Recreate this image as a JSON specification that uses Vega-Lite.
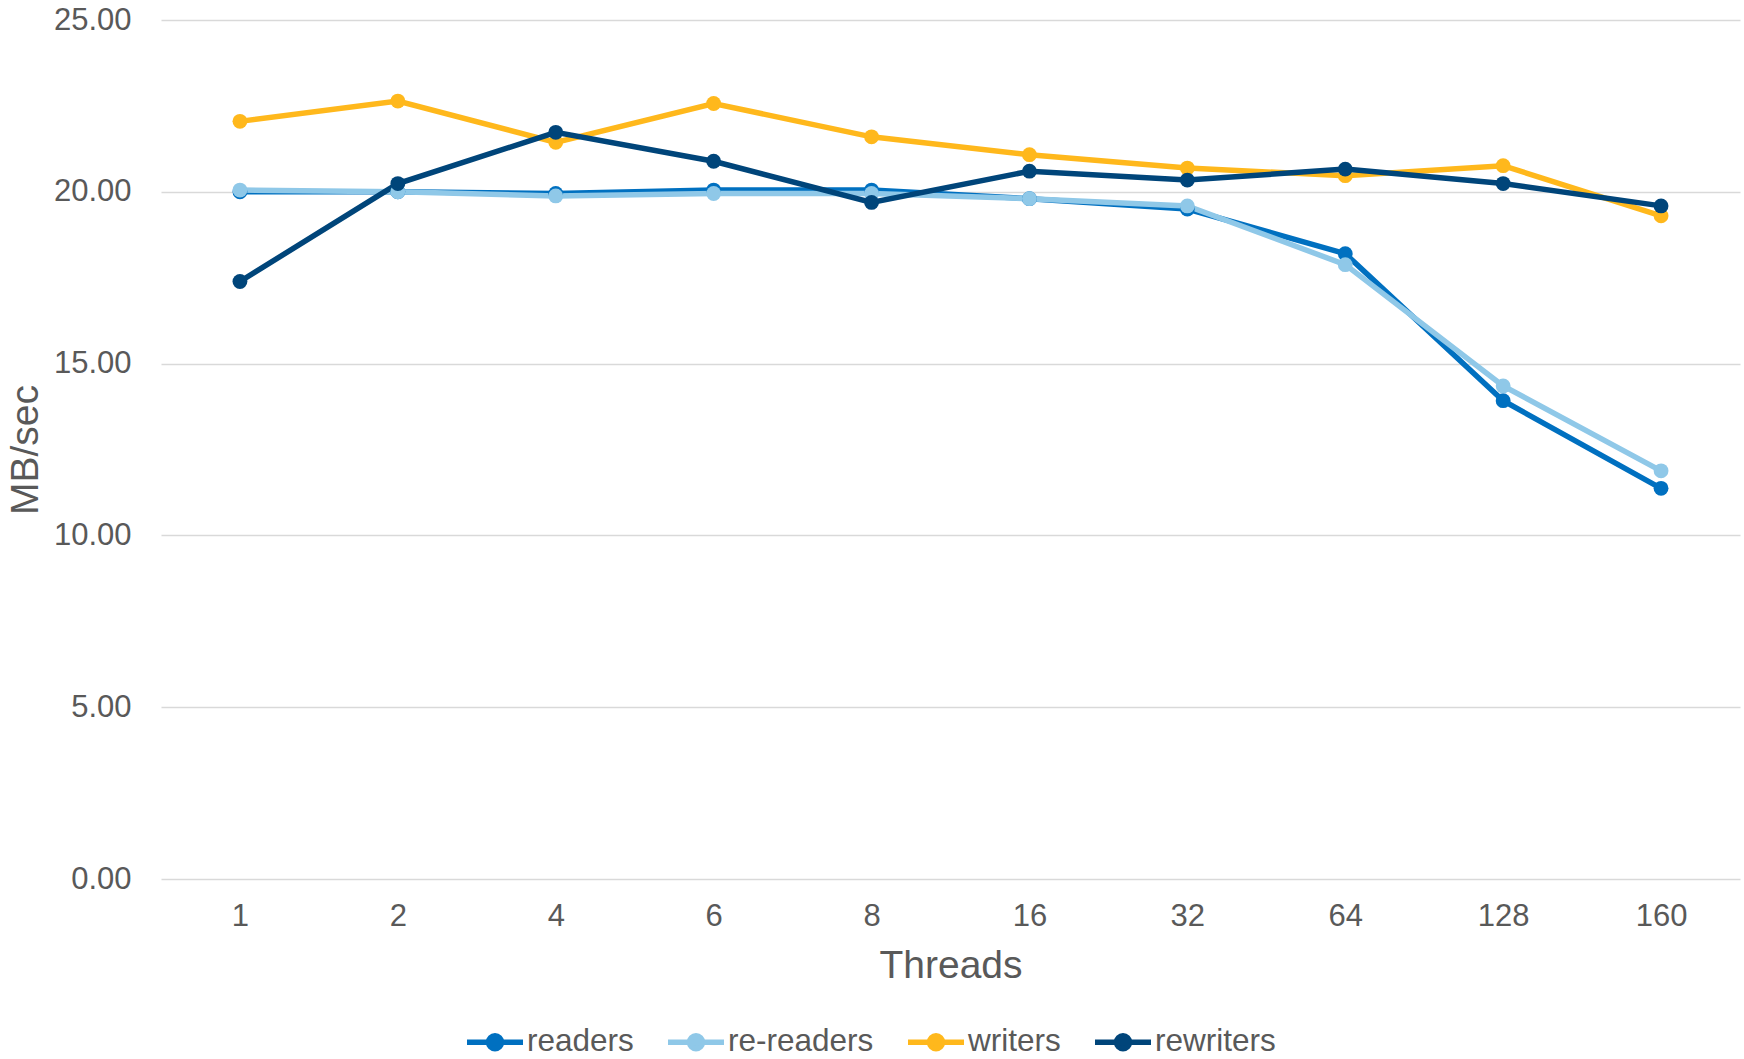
{
  "$schema": "https://vega.github.io/schema/vega-lite/v6.json",
  "autosize": {"type": "none"},
  "width": 1579,
  "height": 859,
  "padding": {"left": 161, "top": 20, "right": 4, "bottom": 180},
  "background": "white",
  "config": {
    "view": {"stroke": null},
    "font": "Liberation Sans",
    "axis": {"labelFont": "Liberation Sans", "titleFont": "Liberation Sans", "labelColor": "#595959", "titleColor": "#595959", "titleFontWeight": "normal"},
    "legend": {"labelFont": "Liberation Sans"}
  },
  "data": {
    "values": [
      {"threads": "1", "series": "readers", "mbps": 20.0},
      {"threads": "2", "series": "readers", "mbps": 20.0},
      {"threads": "4", "series": "readers", "mbps": 19.95},
      {"threads": "6", "series": "readers", "mbps": 20.05},
      {"threads": "8", "series": "readers", "mbps": 20.05},
      {"threads": "16", "series": "readers", "mbps": 19.8},
      {"threads": "32", "series": "readers", "mbps": 19.5},
      {"threads": "64", "series": "readers", "mbps": 18.2},
      {"threads": "128", "series": "readers", "mbps": 13.92},
      {"threads": "160", "series": "readers", "mbps": 11.37},
      {"threads": "1", "series": "re-readers", "mbps": 20.05},
      {"threads": "2", "series": "re-readers", "mbps": 20.0},
      {"threads": "4", "series": "re-readers", "mbps": 19.88},
      {"threads": "6", "series": "re-readers", "mbps": 19.95},
      {"threads": "8", "series": "re-readers", "mbps": 19.95},
      {"threads": "16", "series": "re-readers", "mbps": 19.8},
      {"threads": "32", "series": "re-readers", "mbps": 19.59},
      {"threads": "64", "series": "re-readers", "mbps": 17.88},
      {"threads": "128", "series": "re-readers", "mbps": 14.35},
      {"threads": "160", "series": "re-readers", "mbps": 11.88},
      {"threads": "1", "series": "writers", "mbps": 22.05},
      {"threads": "2", "series": "writers", "mbps": 22.64},
      {"threads": "4", "series": "writers", "mbps": 21.44},
      {"threads": "6", "series": "writers", "mbps": 22.57},
      {"threads": "8", "series": "writers", "mbps": 21.6},
      {"threads": "16", "series": "writers", "mbps": 21.08},
      {"threads": "32", "series": "writers", "mbps": 20.69},
      {"threads": "64", "series": "writers", "mbps": 20.47},
      {"threads": "128", "series": "writers", "mbps": 20.76},
      {"threads": "160", "series": "writers", "mbps": 19.3},
      {"threads": "1", "series": "rewriters", "mbps": 17.39},
      {"threads": "2", "series": "rewriters", "mbps": 20.24},
      {"threads": "4", "series": "rewriters", "mbps": 21.73},
      {"threads": "6", "series": "rewriters", "mbps": 20.89},
      {"threads": "8", "series": "rewriters", "mbps": 19.69},
      {"threads": "16", "series": "rewriters", "mbps": 20.6},
      {"threads": "32", "series": "rewriters", "mbps": 20.34},
      {"threads": "64", "series": "rewriters", "mbps": 20.66},
      {"threads": "128", "series": "rewriters", "mbps": 20.24},
      {"threads": "160", "series": "rewriters", "mbps": 19.59}
    ]
  },
  "encoding": {
    "x": {
      "field": "threads",
      "type": "ordinal",
      "sort": ["1", "2", "4", "6", "8", "16", "32", "64", "128", "160"],
      "scale": {"type": "point", "padding": 0.5},
      "axis": {
        "title": "Threads",
        "titleFontSize": 39,
        "titlePadding": 15,
        "labelFontSize": 31,
        "labelAngle": 0,
        "labelPadding": 22,
        "domain": false,
        "ticks": false,
        "grid": false
      }
    },
    "y": {
      "field": "mbps",
      "type": "quantitative",
      "scale": {"domain": [0, 25], "nice": false},
      "axis": {
        "title": "MB/sec",
        "titleFontSize": 39,
        "titlePadding": 8,
        "labelFontSize": 31,
        "labelPadding": 30,
        "values": [0, 5, 10, 15, 20, 25],
        "format": ".2f",
        "domain": false,
        "ticks": false,
        "grid": true,
        "gridColor": "#D9D9D9",
        "gridWidth": 1.7
      }
    },
    "color": {
      "field": "series",
      "type": "nominal",
      "sort": ["readers", "re-readers", "writers", "rewriters"],
      "scale": {
        "domain": ["readers", "re-readers", "writers", "rewriters"],
        "range": ["#0070C0", "#8FC8E8", "#FFB81C", "#00457A"]
      },
      "legend": {
        "title": null,
        "orient": "none",
        "direction": "horizontal",
        "legendX": 303,
        "legendY": 991,
        "labelFontSize": 31.5,
        "labelColor": "#595959",
        "labelOffset": 1,
        "columnPadding": 23,
        "symbolType": "M-1,0H1M-0.23,0A0.23,0.23,0,1,1,0.23,0A0.23,0.23,0,1,1,-0.23,0Z",
        "symbolSize": 3136,
        "symbolStrokeWidth": 5.5,
        "encode": {
          "symbols": {
            "update": {
              "fill": {"scale": "color", "field": "value"},
              "stroke": {"scale": "color", "field": "value"},
              "strokeWidth": {"value": 5.5},
              "opacity": {"value": 1}
            }
          }
        }
      }
    }
  },
  "layer": [
    {"mark": {"type": "line", "strokeWidth": 5.5}},
    {"mark": {"type": "point", "filled": true, "size": 220, "opacity": 1}}
  ]
}
